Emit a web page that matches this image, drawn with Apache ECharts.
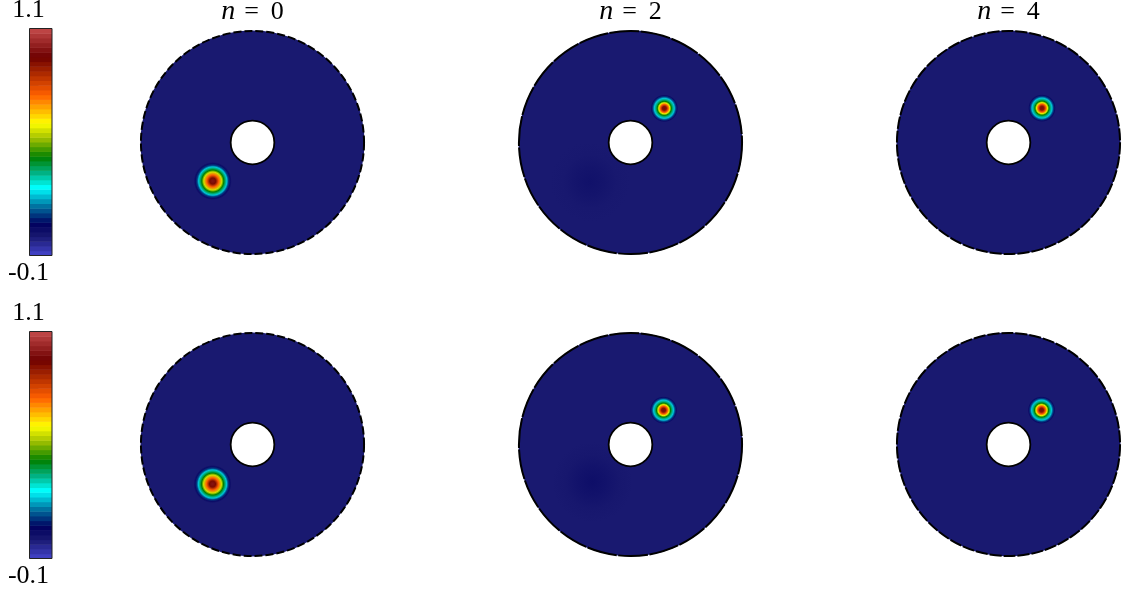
<!DOCTYPE html>
<html>
<head>
<meta charset="utf-8">
<style>
  html, body { margin: 0; padding: 0; background: #fff; }
  #main { width: 1123px; height: 594px; }
</style>
<script src="https://cdn.jsdelivr.net/npm/echarts@6/dist/echarts.min.js"></script>
</head>
<body>
<div id="main"></div>
<script>
// colour scale
const scaleValues = [-0.1, 0, 0.07, 0.16, 0.26, 0.34, 0.42, 0.52, 0.6, 0.75, 0.95, 1.1];
const scaleColors = ['#4444cc', '#191970', '#00005e', '#006f9f', '#00ffff', '#00b080', '#008000', '#a0c000', '#ffff00', '#ff6000', '#6e0000', '#c44a4a'];
const barTicks = [0.2, 0.5, 0.8];
const barLabels = ['1.1', '-0.1'];
const bandCount = 48;

const steps = [0, 2, 4];
const diskRadius = 1;
const holeRadius = 0.195;
const holeCenter = [0, 0];

// blob centres per row, then per column (disk radius = 1)
const blobCentersTop = [[-0.355, -0.344], [0.302, 0.305], [0.299, 0.307]];
const blobCentersBottom = [[-0.357, -0.353], [0.295, 0.307], [0.295, 0.307]];

// radial profiles of the blob: radius, value
const blobRadiiFirst = [0, 0.027, 0.054, 0.08, 0.098, 0.114, 0.126, 0.14, 0.155, 0.17];
const blobValuesFirst = [0.99, 0.93, 0.75, 0.56, 0.42, 0.34, 0.22, 0.12, 0.04, 0];
const blobRadiiLater = [0, 0.018, 0.036, 0.049, 0.0625, 0.076, 0.089, 0.103, 0.114, 0.124];
const blobValuesLater = [0.97, 0.91, 0.75, 0.58, 0.42, 0.34, 0.22, 0.12, 0.04, 0];

// faint leftover in the n = 2 frame
const dipCenters = [[-0.36, -0.35], [-0.34, -0.335]];
const dipRadii = [0, 0.12, 0.24, 0.36];
const dipValuesTop = [0.022, 0.014, 0.004, 0];
const dipValuesBottom = [0.03, 0.02, 0.006, 0];

const centersX = [252.5, 630.5, 1008.5];
const centersY = [142.5, 444.5];
const barTops = [28.5, 331.5];
const rimDashes = [[8, 3], [30, 1.5], [12, 2]];

function colorOf(v) {
  if (v <= scaleValues[0]) return scaleColors[0];
  for (let i = 1; i < scaleValues.length; i++) {
    if (v <= scaleValues[i]) {
      const t = (v - scaleValues[i - 1]) / (scaleValues[i] - scaleValues[i - 1]);
      return echarts.color.lerp(t, [scaleColors[i - 1], scaleColors[i]]);
    }
  }
  return scaleColors[scaleColors.length - 1];
}

function gradientOf(radii, values) {
  const last = radii[radii.length - 1];
  const stops = radii.map((r, i) => ({ offset: r / last, color: colorOf(values[i]) }));
  return new echarts.graphic.RadialGradient(0.5, 0.5, 0.5, stops);
}

// one circle in data units on a panel grid
function circleSeries(gridIndex, center, radius, style) {
  return {
    type: 'custom',
    coordinateSystem: 'cartesian2d',
    xAxisIndex: gridIndex,
    yAxisIndex: gridIndex,
    clip: false,
    silent: true,
    data: [[center[0], center[1], radius]],
    renderItem: (params, api) => {
      const p = api.coord([api.value(0), api.value(1)]);
      return {
        type: 'circle',
        shape: { cx: p[0], cy: p[1], r: api.size([api.value(2), 0])[0] },
        style: style,
      };
    },
  };
}

const grids = [];
const xAxes = [];
const yAxes = [];
const series = [];
const titles = [];

centersY.forEach((cy, row) => {
  centersX.forEach((cx, col) => {
    const g = grids.length;
    grids.push({ left: cx - 112, top: cy - 112, width: 224, height: 224 });
    xAxes.push({ gridIndex: g, type: 'value', min: -1, max: 1, show: false });
    yAxes.push({ gridIndex: g, type: 'value', min: -1, max: 1, show: false });
    series.push(circleSeries(g, [0, 0], diskRadius, { fill: colorOf(0) }));
    if (col === 1) {
      const dipValues = row === 0 ? dipValuesTop : dipValuesBottom;
      series.push(circleSeries(g, dipCenters[row], dipRadii[dipRadii.length - 1], { fill: gradientOf(dipRadii, dipValues) }));
    }
    const centers = row === 0 ? blobCentersTop : blobCentersBottom;
    const radii = col === 0 ? blobRadiiFirst : blobRadiiLater;
    const values = col === 0 ? blobValuesFirst : blobValuesLater;
    series.push(circleSeries(g, centers[col], radii[radii.length - 1], { fill: gradientOf(radii, values) }));
    series.push(circleSeries(g, holeCenter, holeRadius, { fill: '#fff', stroke: '#000', lineWidth: 1.8 }));
    series.push(circleSeries(g, [0, 0], diskRadius * 0.996, { fill: 'none', stroke: '#000', lineWidth: 2, lineDash: rimDashes[col] }));
  });
});

steps.forEach((n, col) => {
  titles.push({
    text: '{i|n}{e|=}' + n,
    left: centersX[col],
    top: -2,
    padding: 0,
    textAlign: 'center',
    textStyle: {
      fontFamily: 'Liberation Serif',
      fontSize: 26,
      fontWeight: 'normal',
      color: '#000',
      rich: {
        i: { fontFamily: 'Liberation Serif', fontStyle: 'italic', fontSize: 28, color: '#000' },
        e: { fontFamily: 'Liberation Serif', fontSize: 26, color: '#000', padding: [0, 12, 0, 9] },
      },
    },
  });
});

// colour bars
barTops.forEach((top, row) => {
  const g = grids.length;
  grids.push({ left: 29.5, top: top, width: 22.5, height: 227 });
  xAxes.push({ gridIndex: g, type: 'value', min: 0, max: 1, show: false });
  yAxes.push({
    gridIndex: g,
    type: 'value',
    min: -0.1,
    max: 1.1,
    axisLine: { show: false },
    splitLine: { show: false },
    axisLabel: { show: false },
    axisTick: {
      show: true,
      inside: true,
      length: 9,
      customValues: barTicks,
      lineStyle: { color: 'rgba(50,50,30,0.55)', width: 1 },
    },
  });
  const bands = [];
  for (let i = 0; i < bandCount; i++) {
    bands.push([-0.1 + (1.2 * i) / bandCount, -0.1 + (1.2 * (i + 1)) / bandCount]);
  }
  series.push({
    type: 'custom',
    xAxisIndex: g,
    yAxisIndex: g,
    silent: true,
    z: 1,
    data: bands,
    encode: { y: [0, 1] },
    renderItem: (params, api) => {
      const lo = api.coord([0, api.value(0)]);
      const hi = api.coord([1, api.value(1)]);
      return {
        type: 'rect',
        shape: { x: lo[0], y: hi[1], width: hi[0] - lo[0], height: lo[1] - hi[1] + 0.5 },
        style: { fill: colorOf((api.value(0) + api.value(1)) / 2) },
      };
    },
  });
  series.push({
    type: 'custom',
    xAxisIndex: g,
    yAxisIndex: g,
    silent: true,
    z: 3,
    clip: false,
    data: [[-0.1, 1.1]],
    encode: { y: [0, 1] },
    renderItem: (params, api) => {
      const lo = api.coord([0, api.value(0)]);
      const hi = api.coord([1, api.value(1)]);
      return {
        type: 'rect',
        shape: { x: lo[0], y: hi[1], width: hi[0] - lo[0], height: lo[1] - hi[1] },
        style: { fill: 'none', stroke: '#222', lineWidth: 1 },
      };
    },
  });
  barLabels.forEach((label, i) => {
    titles.push({
      text: label,
      left: 28.5,
      top: i === 0 ? top - 31 : top + 232,
      padding: 0,
      textAlign: 'center',
      textStyle: { fontFamily: 'Liberation Serif', fontSize: 26, fontWeight: 'normal', color: '#000' },
    });
  });
});

const chart = echarts.init(document.getElementById('main'), null, { renderer: 'canvas' });
chart.setOption({
  animation: false,
  backgroundColor: '#fff',
  title: titles,
  grid: grids,
  xAxis: xAxes,
  yAxis: yAxes,
  series: series,
});
</script>
</body>
</html>
